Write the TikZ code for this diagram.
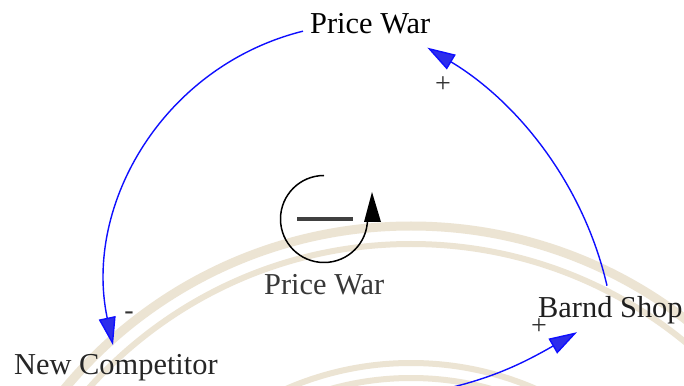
\documentclass[tikz,border=0pt]{standalone}
\usepackage{fontspec}
\setmainfont{Liberation Serif}
\usetikzlibrary{arrows.meta}
\definecolor{wmbeige}{RGB}{236,228,211}
\definecolor{linkblue}{RGB}{15,15,255}
\definecolor{tipblue}{RGB}{45,45,235}
\tikzset{
  lbl/.style={inner sep=0pt, font=\fontsize{30.4}{36}\selectfont, anchor=base west},
  sgn/.style={inner sep=0pt, font=\fontsize{28}{32}\selectfont, anchor=base, text=black!80},
  link/.style={draw=linkblue, line width=1.4pt, -{Triangle[length=28pt,width=17pt,fill=tipblue]}},
  wm/.style={draw=wmbeige},
}
\begin{document}
\begin{tikzpicture}[x=1pt,y=1pt]
\useasboundingbox (0,0) rectangle (684,385);
\clip (0,0) rectangle (684,385);
\fill[white] (0,0) rectangle (684,385);
% watermark rings
\draw[wm, line width=9pt] (411,-291) circle[radius=450];
\draw[wm, line width=6pt] (411,-291) circle[radius=432];
\draw[wm, line width=6pt] (411,-291) circle[radius=313];
\draw[wm, line width=6pt] (411,-291) circle[radius=298];

% labels
\node[lbl, text=black] (pwtop) at (310,351) {Price War};
\node[lbl, text=black!78] (pwc) at (264,90) {Price War};
\node[lbl, text=black!85] (nc) at (14,10.5) {New Competitor};
\node[lbl, text=black!88] (bs) at (538,67) {Barnd Shop};

% loop symbol
\draw[line width=1.5pt] (324,209.5) arc[start angle=90, end angle=360, radius=43.5];
\fill[black] (364,163) -- (381,163) -- (372,193) -- cycle;
\draw[line width=3.5pt, black!75] (297,166) -- (353,166);

% links
\draw[link] ([shift={(-7,-7)}]pwtop.west) to[out=194, in=102] ([shift={(99,9)}]nc.north west);
\draw[link] ([shift={(69,11)}]bs.north west) to[out=103, in=329, looseness=0.9] ([shift={(-3,-13)}]pwtop.south east);
\coordinate (cin) at (400,-12);
\draw[link] (cin) to[out=8, in=210] ([shift={(39,-7.5)}]bs.south west);

% polarity signs
\node[sgn] (s1) at (443,292) {+};
\node[sgn] (s2) at (129,65.7) {-};
\node[sgn] (s3) at (539,50.4) {+};
\end{tikzpicture}
\end{document}
